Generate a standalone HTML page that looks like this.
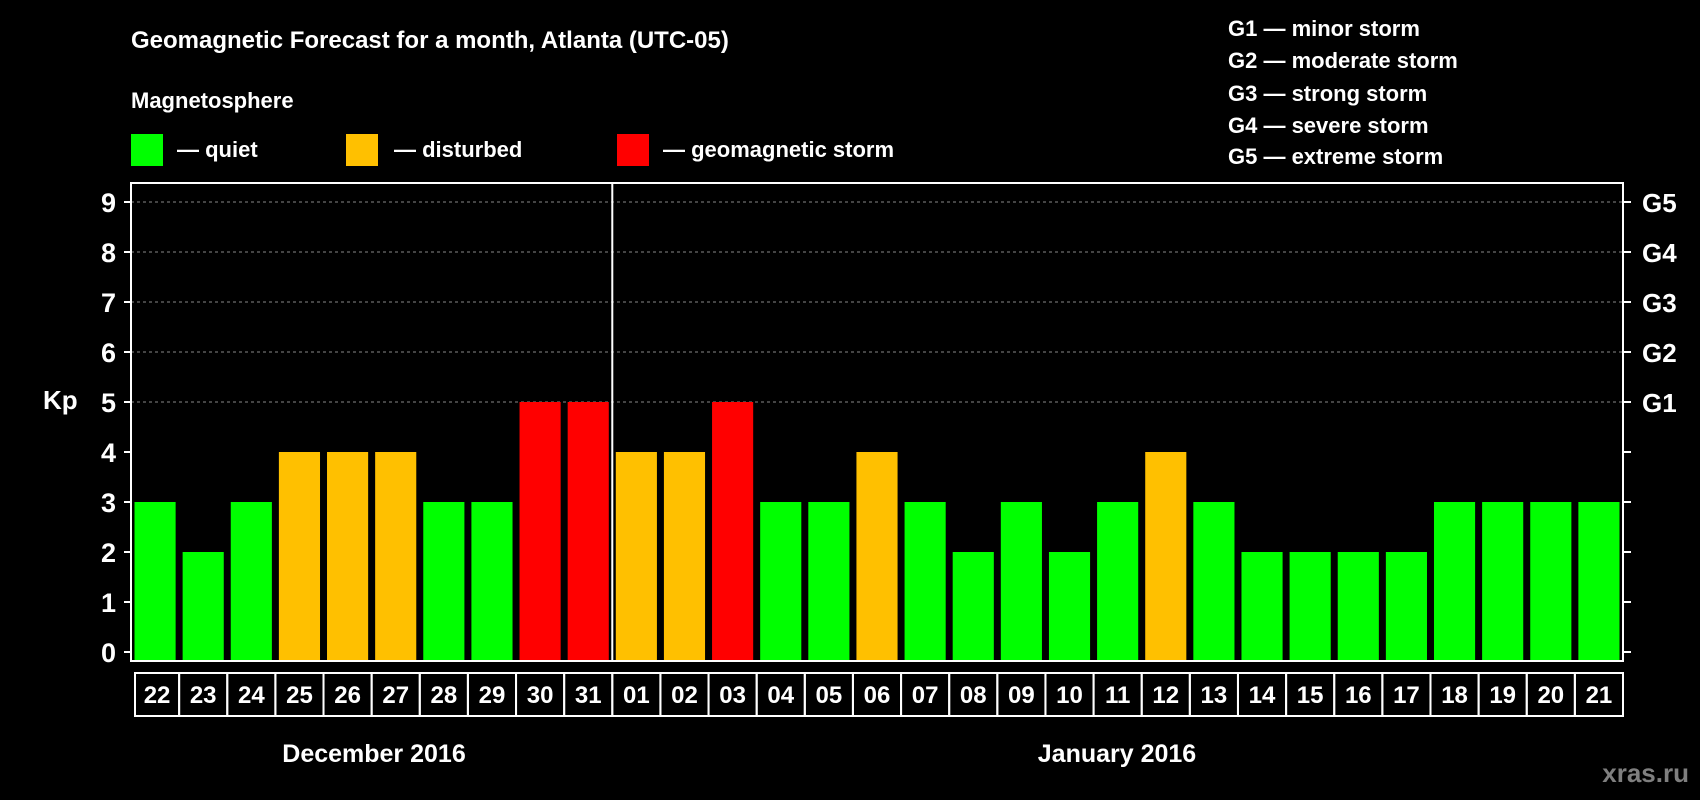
<!DOCTYPE html>
<html><head><meta charset="utf-8"><style>
html,body{margin:0;padding:0;background:#000;}
svg{display:block;font-family:"Liberation Sans",Arial,sans-serif;font-weight:bold;}
</style></head><body>
<svg id="chart" width="1700" height="800" viewBox="0 0 1700 800">
<rect x="0" y="0" width="1700" height="800" fill="#000"/>
<text x="131" y="48" fill="#fff" font-size="24">Geomagnetic Forecast for a month, Atlanta (UTC-05)</text>
<text x="131" y="108" fill="#fff" font-size="22">Magnetosphere</text>
<g><rect x="131" y="134" width="32" height="32" fill="#00ff00"/><text x="177" y="157" fill="#fff" font-size="22">— quiet</text></g>
<g><rect x="346" y="134" width="32" height="32" fill="#ffc000"/><text x="394" y="157" fill="#fff" font-size="22">— disturbed</text></g>
<g><rect x="617" y="134" width="32" height="32" fill="#ff0000"/><text x="663" y="157" fill="#fff" font-size="22">— geomagnetic storm</text></g>
<g fill="#fff" font-size="22">
<text x="1228" y="36">G1 — minor storm</text>
<text x="1228" y="68">G2 — moderate storm</text>
<text x="1228" y="101">G3 — strong storm</text>
<text x="1228" y="133">G4 — severe storm</text>
<text x="1228" y="164">G5 — extreme storm</text>
</g>
<text x="43" y="409" fill="#fff" font-size="26">Kp</text>
<text x="374" y="762" fill="#fff" font-size="25" text-anchor="middle">December 2016</text>
<text x="1117" y="762" fill="#fff" font-size="25" text-anchor="middle">January 2016</text>
<text x="1689" y="782" fill="#7f7f7f" font-size="26" text-anchor="end">xras.ru</text>
<g id="plot"></g>
</svg>
<script>
const days=["22","23","24","25","26","27","28","29","30","31","01","02","03","04","05","06","07","08","09","10","11","12","13","14","15","16","17","18","19","20","21"];
const kpValues=[3,2,3,4,4,4,3,3,5,5,4,4,5,3,3,4,3,2,3,2,3,4,3,2,2,2,2,3,3,3,3];
const yTicks=[0,1,2,3,4,5,6,7,8,9];
const gLabels=["G1","G2","G3","G4","G5"];
const gLevels=[5,6,7,8,9];
const monthSplitIndex=10;

const NS="http://www.w3.org/2000/svg";
const L=131,R=1623,T=183,B=661,Y0=652,Y9=202;
const y=v=>Y0-(Y0-Y9)*v/9;
const colW=(R-L)/days.length;
const x=i=>L+i*colW;
const g=document.getElementById('plot');
function mk(tag,attrs){const e=document.createElementNS(NS,tag);for(const k in attrs)e.setAttribute(k,attrs[k]);g.appendChild(e);return e;}
function color(v){return v>=5?"#ff0000":(v>=4?"#ffc000":"#00ff00");}

yTicks.forEach(t=>{
  if(t>=5){const gl=mk('line',{x1:L,x2:R,y1:y(t),y2:y(t),stroke:'#888','stroke-width':1,'stroke-dasharray':'3,3'});
  
  }
  const tl=mk('line',{x1:L-7,x2:L,y1:y(t),y2:y(t),stroke:'#fff','stroke-width':2});
  
  
  const tr=mk('line',{x1:R,x2:R+8,y1:y(t),y2:y(t),stroke:'#fff','stroke-width':2});
  
  
  const lb=mk('text',{x:116,y:y(t)+10,fill:'#fff','font-size':27,'text-anchor':'end'});
  lb.textContent=t;
  
  
});
gLabels.forEach((s,i)=>{
  const t=mk('text',{x:1642,y:y(gLevels[i])+10,fill:'#fff','font-size':26});
  t.textContent=s;
  
  
});
kpValues.forEach((v,i)=>{
  const b=mk('rect',{x:x(i)+3.5,y:y(v),width:colW-7,height:B-y(v)-1,fill:color(v)});
  
  
  const c=mk('rect',{x:x(i)+(i===0?4:0),y:673,width:colW-(i===0?4:0),height:43,fill:'none',stroke:'#fff','stroke-width':2});
  
  
  const t=mk('text',{x:x(i)+colW/2+(i===0?2:0),y:703,fill:'#fff','font-size':24,'text-anchor':'middle'});
  t.textContent=days[i];
  
  
});
const frame=mk('rect',{x:L,y:T,width:R-L,height:B-T,fill:'none',stroke:'#fff','stroke-width':2});


const div=mk('line',{x1:x(monthSplitIndex),x2:x(monthSplitIndex),y1:T,y2:B,stroke:'#fff','stroke-width':2});


</script>
</body></html>
